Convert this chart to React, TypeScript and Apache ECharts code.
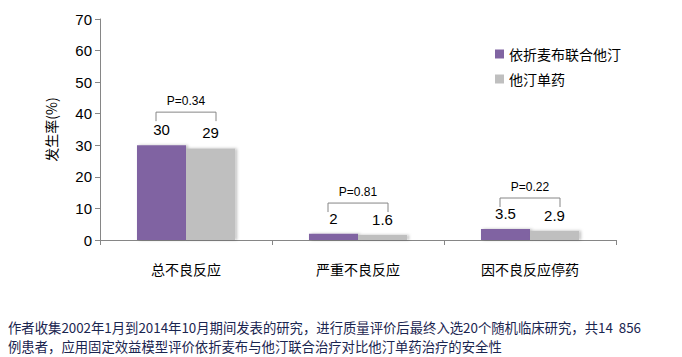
import React, { useEffect, useRef } from "react";
import * as echarts from "echarts";

const categories = ["总不良反应", "严重不良反应", "因不良反应停药"];
const comboName = "依折麦布联合他汀";
const monoName = "他汀单药";
const comboValues = [30, 2, 3.5];
const monoValues = [29, 1.6, 2.9];
const pTexts = ["P=0.34", "P=0.81", "P=0.22"];
const bracketLevels = [40.5, 11.7, 13.3];
const yTicks = [0, 10, 20, 30, 40, 50, 60, 70];
const footnote =
  "作者收集2002年1月到2014年10月期间发表的研究，进行质量评价后最终入选20个随机临床研究，共14  856\n例患者，应用固定效益模型评价依折麦布与他汀联合治疗对比他汀单药治疗的安全性";

const FONT = "'Liberation Sans', 'Noto Sans CJK SC', sans-serif";
const CJK = "'Noto Sans CJK SC', 'Liberation Sans', sans-serif";

export default function App() {
  const ref = useRef<HTMLDivElement>(null);
  useEffect(() => {
    document.body.style.margin = "0";
    const chart = echarts.init(ref.current!, null, { renderer: "svg" });
    const shadow = {
      shadowBlur: 3,
      shadowOffsetX: 2,
      shadowOffsetY: 0,
      shadowColor: "rgba(0,0,0,0.25)",
    };
    chart.setOption({
      animation: false,
      backgroundColor: "#ffffff",
      grid: { left: 100, right: 66, top: 19, bottom: 117 },
      legend: {
        orient: "vertical",
        left: 490,
        top: 42,
        itemWidth: 9,
        itemHeight: 9,
        itemGap: 11,
        icon: "rect",
        textStyle: { fontFamily: CJK, fontSize: 14, color: "#000" },
        data: [comboName, monoName],
      },
      xAxis: {
        type: "category",
        data: categories,
        boundaryGap: true,
        axisLine: { lineStyle: { color: "#868686", width: 1 } },
        axisTick: { show: true, length: 5, alignWithLabel: false, lineStyle: { color: "#868686" } },
        axisLabel: { fontFamily: CJK, fontSize: 14, color: "#000", margin: 22 },
      },
      yAxis: {
        type: "value",
        min: yTicks[0],
        max: yTicks[yTicks.length - 1],
        interval: 10,
        name: "发生率(%)",
        nameLocation: "middle",
        nameGap: 42,
        nameRotate: 90,
        nameTextStyle: { fontFamily: CJK, fontSize: 14, color: "#000" },
        axisLine: { show: true, lineStyle: { color: "#868686", width: 1 } },
        axisTick: { show: true, length: 5, lineStyle: { color: "#868686" } },
        splitLine: { show: false },
        axisLabel: { fontFamily: FONT, fontSize: 15, color: "#000", margin: 8 },
      },
      series: [
        {
          name: comboName,
          type: "bar",
          data: comboValues,
          barGap: "0%",
          barCategoryGap: "43%",
          itemStyle: { color: "#8064A2", ...shadow },
          label: {
            show: true,
            position: "top",
            distance: 8,
            fontFamily: FONT,
            fontSize: 15,
            color: "#000",
          },
        },
        {
          name: monoName,
          type: "bar",
          data: monoValues,
          itemStyle: { color: "#BFBFBF", ...shadow },
          label: {
            show: true,
            position: "top",
            distance: 8,
            fontFamily: FONT,
            fontSize: 15,
            color: "#000",
          },
        },
        {
          type: "custom",
          name: "p",
          silent: true,
          data: bracketLevels.map((v, i) => [i, v]),
          renderItem: (params: any, api: any) => {
            const i = api.value(0);
            const lvl = api.value(1);
            const p = api.coord([i, lvl]);
            const x0 = p[0] - 30;
            const x1 = p[0] + 30;
            const y = p[1];
            const color = "#868686";
            return {
              type: "group",
              children: [
                { type: "line", shape: { x1: x0, y1: y, x2: x1, y2: y }, style: { stroke: color, lineWidth: 1 } },
                { type: "line", shape: { x1: x0, y1: y, x2: x0, y2: y + 9 }, style: { stroke: color, lineWidth: 1 } },
                { type: "line", shape: { x1: x1, y1: y, x2: x1, y2: y + 9 }, style: { stroke: color, lineWidth: 1 } },
                {
                  type: "text",
                  style: {
                    text: pTexts[i],
                    x: p[0],
                    y: y - 11,
                    align: "center",
                    verticalAlign: "middle",
                    font: `12px ${FONT}`,
                    fill: "#000",
                  },
                },
              ],
            };
          },
        },
      ],
      graphic: [
        {
          type: "text",
          left: 8,
          top: 318,
          style: {
            text: footnote,
            font: `13.35px ${CJK}`,
            fill: "#1a2550",
            lineHeight: 19,
          },
        },
      ],
    });
    return () => chart.dispose();
  }, []);
  return <div ref={ref} style={{ width: 682, height: 357 }} />;
}
